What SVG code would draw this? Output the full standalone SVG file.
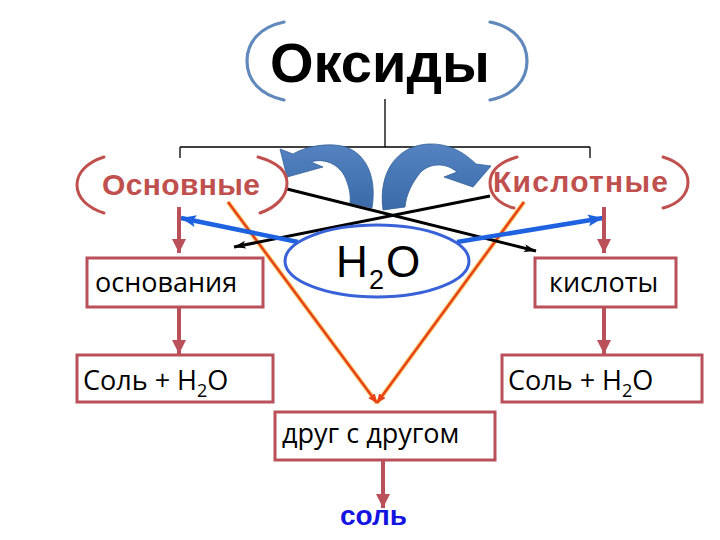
<svg xmlns="http://www.w3.org/2000/svg" width="720" height="540" viewBox="0 0 720 540">
  <style>
    .box { fill: #ffffff; stroke: #b9505a; stroke-width: 3; }
    .boxtxt { font-family: 'Open Sans', 'Noto Sans', 'DejaVu Sans', sans-serif; font-size: 27px; fill: #000000; }
    .sub { font-size: 18px; }
    .head { font-family: 'Liberation Sans', Arial, sans-serif; font-weight: bold; }
    .redtxt { fill: #c0504d; font-size: 30px; }
    .rbr { fill: none; stroke: #c0504d; stroke-width: 3; stroke-linecap: round; }
    .bbr { fill: none; stroke: #6088bb; stroke-width: 3.2; stroke-linecap: round; }
    .tree { fill: none; stroke: #000000; stroke-width: 1.3; }
    .redarr { fill: none; stroke: #b9505a; stroke-width: 4; marker-end: url(#mRed); }
    .blk { fill: none; stroke: #000000; stroke-width: 3; marker-end: url(#mBlk); }
    .blu { fill: none; stroke: #1f62e0; stroke-width: 4.5; marker-end: url(#mBlu); }
    .vglow { fill: none; stroke: #f6cf6a; stroke-width: 4.5; }
    .vline { fill: none; stroke: #e8401c; stroke-width: 2.4; }
    .curve { fill: url(#gCurve); stroke: #34619a; stroke-width: 0.8; }
  </style>
  <defs>
    <linearGradient id="gCurve" x1="0" y1="0" x2="0" y2="1">
      <stop offset="0" stop-color="#5583c2"/>
      <stop offset="1" stop-color="#3a6aa8"/>
    </linearGradient>
    <marker id="mRed" markerUnits="userSpaceOnUse" markerWidth="16" markerHeight="16" refX="14" refY="7" orient="auto">
      <path d="M0,0 L14,7 L0,14 Z" fill="#b9505a"/>
    </marker>
    <marker id="mBlk" markerUnits="userSpaceOnUse" markerWidth="14" markerHeight="10" refX="12" refY="4" orient="auto">
      <path d="M0,0 L12,4 L0,8 L3,4 Z" fill="#000000"/>
    </marker>
    <marker id="mBlu" markerUnits="userSpaceOnUse" markerWidth="18" markerHeight="14" refX="15" refY="6" orient="auto">
      <path d="M0,0 L15,6 L0,12 L3,6 Z" fill="#1f62e0"/>
    </marker>
    <marker id="mV" markerUnits="userSpaceOnUse" markerWidth="12" markerHeight="10" refX="9" refY="4" orient="auto">
      <path d="M0,0 L9,4 L0,8 Z" fill="#e8401c"/>
    </marker>
  </defs>

  <rect x="0" y="0" width="720" height="540" fill="#ffffff"/>

  <g id="connectors">
    <!-- tree from title -->
    <path class="tree" d="M385,99 V147 M180,147 H590 M180,147 V158 M590,147 V158"/>
    <!-- curved blue arrows -->
    <path class="curve" d="M372,208 C378,172 362,146 334,145 C316,144 302,149 293,154 L280,149 L287,177 L323,167 L311,162 C323,158 337,163 344,175 C349,185 351,195 350,203 Z"/>
    <path class="curve" d="M383,210 C378,172 397,146 428,144 C448,143 464,152 476,164 L491,166 L473,187 L444,177 L457,172 C447,163 430,162 420,173 C411,184 406,196 405,207 Z"/>
    <!-- red V lines -->
    <path class="vglow" d="M228,202 L377,403 M524,202 L377,403"/>
    <path class="vline" d="M228,202 L377,403" marker-end="url(#mV)"/>
    <path class="vline" d="M524,202 L377,403" marker-end="url(#mV)"/>
    <!-- black crossing arrows -->
    <path class="blk" d="M287,189 L536,251"/>
    <path class="blk" d="M490,196 L234,247"/>
    <!-- blue arrows from H2O -->
    <path class="blu" d="M298,242 L181,218"/>
    <path class="blu" d="M457,242 L603,218"/>
    <!-- red vertical arrows -->
    <path class="redarr" d="M179,207 V253"/>
    <path class="redarr" d="M179,308 V354"/>
    <path class="redarr" d="M604,207 V253"/>
    <path class="redarr" d="M604,308 V354"/>
    <path class="redarr" d="M383,461 V508"/>
  </g>

  <g id="title">
    <path class="bbr" d="M284,22 C260,27 247,42 247,61 C247,80 260,95 284,100"/>
    <path class="bbr" d="M490,22 C514,27 527,42 527,61 C527,80 514,95 490,100"/>
    <text class="head" x="270" y="82" font-size="56" fill="#000000">Оксиды</text>
  </g>

  <g id="osnovnye">
    <path class="rbr" d="M104,157 C88,162 77,172 77,185 C77,198 88,208 104,213"/>
    <path class="rbr" d="M258,157 C276,162 287,171 287,183 C287,196 277,207 260,213"/>
    <text class="head redtxt" x="102" y="195" textLength="158">Основные</text>
  </g>

  <g id="kislotnye">
    <path class="rbr" d="M517,157 C500,162 490,171 490,183 C490,195 499,204 514,208"/>
    <path class="rbr" d="M663,157 C679,162 688,171 688,182 C688,194 679,204 663,208"/>
    <text class="head redtxt" x="493" y="192" textLength="175">Кислотные</text>
  </g>

  <g id="h2o">
    <ellipse cx="377" cy="261" rx="92" ry="36" fill="#ffffff" stroke="#3a62d8" stroke-width="3"/>
    <text font-family="'Liberation Sans', Arial, sans-serif" font-size="44" fill="#000000"><tspan x="336" y="277">H</tspan><tspan x="369" y="289" font-size="27">2</tspan><tspan x="386" y="277">O</tspan></text>
  </g>

  <g id="osnovaniya">
    <rect class="box" x="87" y="258" width="176" height="49"/>
    <text class="boxtxt" x="95" y="292">основания</text>
  </g>

  <g id="kisloty">
    <rect class="box" x="535" y="258" width="141" height="49"/>
    <text class="boxtxt" x="549" y="292">кислоты</text>
  </g>

  <g id="sol-left">
    <rect class="box" x="77" y="355" width="196" height="47"/>
    <text class="boxtxt" x="83" y="390">Соль + H<tspan class="sub" dy="7">2</tspan><tspan dy="-7">O</tspan></text>
  </g>

  <g id="sol-right">
    <rect class="box" x="502" y="355" width="200" height="47"/>
    <text class="boxtxt" x="508" y="390">Соль + H<tspan class="sub" dy="7">2</tspan><tspan dy="-7">O</tspan></text>
  </g>

  <g id="drug">
    <rect class="box" x="275" y="412" width="220" height="48"/>
    <text class="boxtxt" x="282" y="443">друг с другом</text>
  </g>

  <g id="sol">
    <text class="head" x="340" y="525" font-size="28" fill="#1414e0">соль</text>
  </g>
</svg>
